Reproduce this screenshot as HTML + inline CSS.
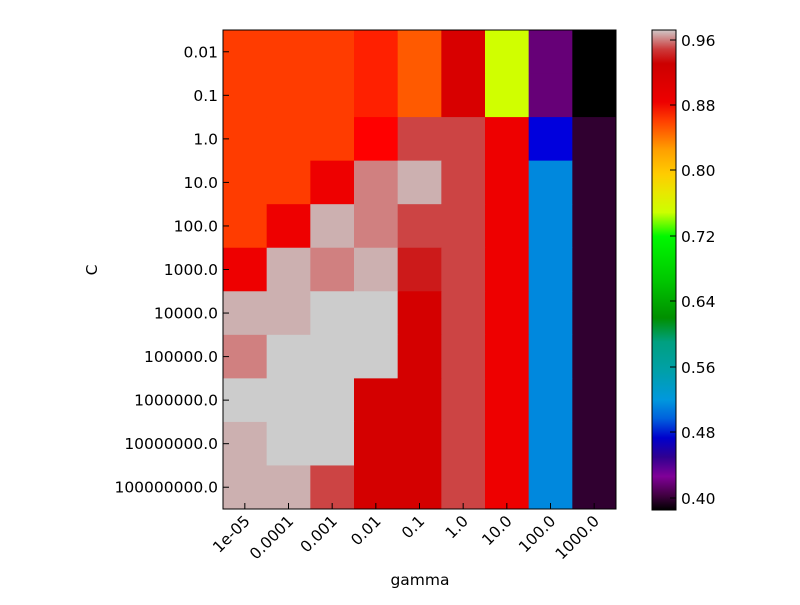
<!DOCTYPE html>
<html><head><style>
body{margin:0;background:#fff;}
</style></head><body>
<svg width="800" height="600" xmlns="http://www.w3.org/2000/svg" font-family="DejaVu Sans, sans-serif" font-size="15">
<defs>
<linearGradient id="cb" x1="0" y1="0" x2="0" y2="1">
<stop offset="0" stop-color="#d0c8c8"/>
<stop offset="0.04" stop-color="#cc3a3a"/>
<stop offset="0.07" stop-color="#cc0000"/>
<stop offset="0.15" stop-color="#ee0000"/>
<stop offset="0.19" stop-color="#ff4000"/>
<stop offset="0.25" stop-color="#ffa000"/>
<stop offset="0.30" stop-color="#ffcc00"/>
<stop offset="0.34" stop-color="#e8e800"/>
<stop offset="0.38" stop-color="#ccff00"/>
<stop offset="0.43" stop-color="#00f800"/>
<stop offset="0.52" stop-color="#00c800"/>
<stop offset="0.60" stop-color="#008f00"/>
<stop offset="0.65" stop-color="#00a080"/>
<stop offset="0.71" stop-color="#00a0a8"/>
<stop offset="0.77" stop-color="#0098dd"/>
<stop offset="0.81" stop-color="#0060dd"/>
<stop offset="0.85" stop-color="#0000cc"/>
<stop offset="0.89" stop-color="#300090"/>
<stop offset="0.93" stop-color="#800098"/>
<stop offset="0.97" stop-color="#400040"/>
<stop offset="1" stop-color="#000000"/>
</linearGradient>
</defs>
<g id="cells"></g>
<rect x="223" y="30" width="393" height="479" fill="none" stroke="#000" stroke-width="1"/>
<rect x="652" y="30" width="24" height="480" fill="url(#cb)" stroke="#000"/>
<g stroke="#000">
<line x1="670" y1="40" x2="676" y2="40"/><line x1="670" y1="105" x2="676" y2="105"/>
<line x1="670" y1="170" x2="676" y2="170"/><line x1="670" y1="236" x2="676" y2="236"/>
<line x1="670" y1="301" x2="676" y2="301"/><line x1="670" y1="367" x2="676" y2="367"/>
<line x1="670" y1="432" x2="676" y2="432"/><line x1="670" y1="498" x2="676" y2="498"/>
</g>
<g font-size="15.5">
<text x="681" y="46">0.96</text><text x="681" y="111">0.88</text>
<text x="681" y="176">0.80</text><text x="681" y="242">0.72</text>
<text x="681" y="307">0.64</text><text x="681" y="373">0.56</text>
<text x="681" y="438">0.48</text><text x="681" y="504">0.40</text>
</g>
<g id="yl" text-anchor="end" font-size="15.5"></g>
<g id="xl" text-anchor="end" font-size="15.5"></g>
<text x="420" y="585" text-anchor="middle" font-size="15.5">gamma</text>
<text x="97" y="270" text-anchor="middle" font-size="15.5" transform="rotate(-90 97 270)">C</text>
</svg>
<script>
var O="#ff3c00",R="#ee0000",D="#d40000",M="#cc4444",P="#ccb0b0",S="#d08080",G="#cccccc",B="#0088dd",K="#300030";
var rows=[
[O,O,O,"#ff2000","#ff5a00","#d80000","#d0ff00","#660077","#000000"],
[O,O,O,"#ff2000","#ff5a00","#d80000","#d0ff00","#660077","#000000"],
[O,O,O,"#ff0000",M,M,R,"#0000dd",K],
[O,O,R,S,P,M,R,B,K],
[O,R,P,S,M,M,R,B,K],
[R,P,S,P,"#cc1a1a",M,R,B,K],
[P,P,G,G,D,M,R,B,K],
[S,G,G,G,D,M,R,B,K],
[G,G,G,D,D,M,R,B,K],
[P,G,G,D,D,M,R,B,K],
[P,P,M,D,D,M,R,B,K]];
var ns="http://www.w3.org/2000/svg",g=document.getElementById("cells");
var cw=393/9,rh=479/11;
rows.forEach(function(r,i){r.forEach(function(c,j){var e=document.createElementNS(ns,"rect");
e.setAttribute("x",223+j*cw);e.setAttribute("y",30+i*rh);e.setAttribute("width",cw+0.5);e.setAttribute("height",rh+0.5);e.setAttribute("fill",c);g.appendChild(e);});});
var yl=["0.01","0.1","1.0","10.0","100.0","1000.0","10000.0","100000.0","1000000.0","10000000.0","100000000.0"];
var yg=document.getElementById("yl");
yl.forEach(function(t,i){var y=30+(i+0.5)*rh;var e=document.createElementNS(ns,"text");e.setAttribute("x",218);e.setAttribute("y",y+5.5);e.textContent=t;yg.appendChild(e);
var l=document.createElementNS(ns,"line");l.setAttribute("x1",223);l.setAttribute("x2",229);l.setAttribute("y1",y);l.setAttribute("y2",y);l.setAttribute("stroke","#000");g.parentNode.appendChild(l);});
var xl=["1e-05","0.0001","0.001","0.01","0.1","1.0","10.0","100.0","1000.0"];
var xg=document.getElementById("xl");
xl.forEach(function(t,j){var x=223+(j+0.5)*cw;var e=document.createElementNS(ns,"text");var tx=x+6,ty=522;
e.setAttribute("x",tx);e.setAttribute("y",ty);e.setAttribute("transform","rotate(-45 "+tx+" "+ty+")");e.textContent=t;xg.appendChild(e);
var l=document.createElementNS(ns,"line");l.setAttribute("x1",x);l.setAttribute("x2",x);l.setAttribute("y1",509);l.setAttribute("y2",503);l.setAttribute("stroke","#000");g.parentNode.appendChild(l);});
</script>
</body></html>
